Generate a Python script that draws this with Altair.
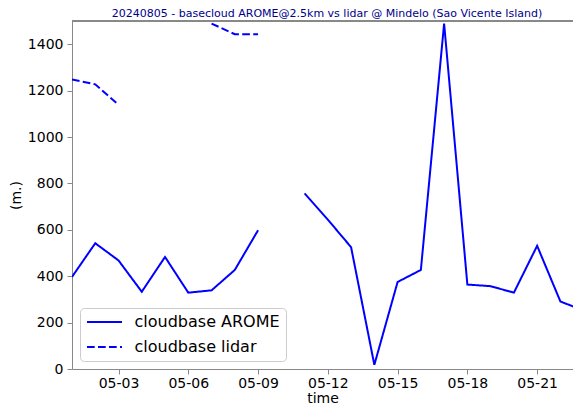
import altair as alt
import pandas as pd

dates = [f"2024-05-{d:02d}" for d in range(1, 24)]
arome = [397, 542, 468, 333, 483, 329, 339, 427, 598, None, 757, 644, 525, 18,
         375, 427, 1489, 364, 357, 329, 531, 291, 252]
lidar = [1248, 1227, 1139, None, None, None, 1489, 1443, 1443, None, None, None,
         None, None, None, None, None, None, None, None, None, None, None]
series_names = ["cloudbase AROME", "cloudbase lidar"]
title_text = "20240805 - basecloud AROME@2.5km vs lidar @ Mindelo (Sao Vicente Island)"
x_tick_dates = [(2024, 5, 3), (2024, 5, 6), (2024, 5, 9), (2024, 5, 12),
                (2024, 5, 15), (2024, 5, 18), (2024, 5, 21)]
y_ticks = [0, 200, 400, 600, 800, 1000, 1200, 1400]

rows = []
for name, vals in zip(series_names, [arome, lidar]):
    seg = 0
    for d, v in zip(dates, vals):
        if v is None:
            seg += 1
            continue
        rows.append({"date": d, "value": v, "series": name, "seg": f"{name}-{seg}"})
df = pd.DataFrame(rows)

FONT = "DejaVu Sans"
SPINE = "#888888"

lines = alt.Chart(df).mark_line(clip=True, strokeWidth=2, color="blue").encode(
    x=alt.X(
        "date:T",
        scale=alt.Scale(
            type="utc",
            domain=[alt.DateTime(year=2024, month=5, date=1, utc=True),
                    alt.DateTime(year=2024, month=5, date=22, hours=13, utc=True)],
        ),
        axis=alt.Axis(
            values=[alt.DateTime(year=y, month=m, date=d, utc=True) for y, m, d in x_tick_dates],
            format="%m-%d", title="time", titlePadding=1, labelPadding=2,
        ),
    ),
    y=alt.Y(
        "value:Q",
        scale=alt.Scale(domain=[0, 1500], nice=False),
        axis=alt.Axis(values=y_ticks, format="d", title="(m.)", titlePadding=4,
                      labelPadding=4),
    ),
    strokeDash=alt.StrokeDash(
        "series:N",
        scale=alt.Scale(domain=series_names, range=[[1, 0], [7.7, 3.3]]),
        legend=alt.Legend(
            title=None, orient="bottom-left", offset=8,
            symbolType="M-2.5,0H2.5", symbolSize=196, symbolStrokeWidth=2,
            symbolOffset=10.5,
            symbolStrokeColor="blue", labelFontSize=16, labelFont=FONT,
            labelColor="black", labelOffset=22, padding=6, rowPadding=9,
            strokeColor="#cccccc", fillColor="white", cornerRadius=4,
        ),
    ),
    detail="seg:N",
)

top_spine = alt.Chart(df).mark_rule(color=SPINE, strokeWidth=1).encode(
    y=alt.value(0)
)

chart = alt.layer(lines, top_spine).properties(
    width=501,
    height=348,
    autosize="none",
    padding={"left": 64, "top": 13, "right": 0, "bottom": 35},
    title=alt.TitleParams(
        text=title_text, fontSize=11, color="darkblue", font=FONT,
        fontWeight="normal", offset=2, anchor="middle", frame="group",
        dx=4.5,
    ),
).configure_view(
    strokeWidth=0
).configure_axis(
    labelFont=FONT, titleFont=FONT, labelFontSize=14, titleFontSize=14,
    titleFontWeight="normal", labelColor="black", titleColor="black",
    domainColor=SPINE, tickColor=SPINE, tickSize=5,
    grid=False,
)

chart.save("out.html", embed_options={"renderer": "svg", "actions": False})
